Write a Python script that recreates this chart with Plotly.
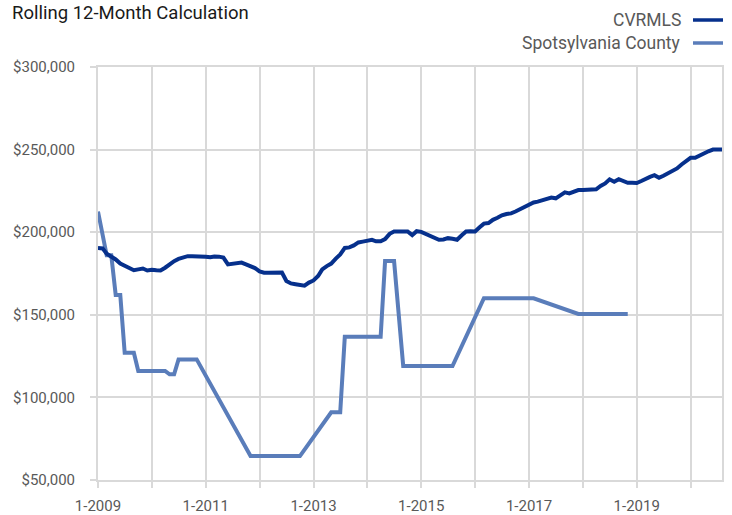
import plotly.graph_objects as go
import pandas as pd

# Monthly dates Jan 2009 .. Aug 2020
months = pd.date_range("2009-01-01", "2020-08-01", freq="MS")

# CVRMLS rolling 12-month median price (thousands of $)
cvrmls_k = [
    190.4, 190.2, 187.0, 185.5, 183.5, 181.0, 179.5, 178.5, 177.0, 177.5, 178.0, 176.8,
    177.3, 177.0, 176.8, 178.5, 180.5, 182.5, 183.8, 184.8, 185.5, 185.5, 185.5, 185.4,
    185.2, 184.8, 185.3, 185.2, 184.6, 180.5, 181.0, 181.3, 181.6, 180.5, 179.4, 178.3,
    176.3, 175.5, 175.5, 175.6, 175.5, 175.6, 170.5, 169.0, 168.5, 168.3, 167.6, 169.5,
    170.8, 173.5, 177.5, 179.5, 181.0, 184.0, 186.5, 190.5, 190.8, 192.0, 193.8, 194.3,
    195.0, 195.4, 194.5, 194.5, 195.8, 199.0, 200.4, 200.6, 200.6, 200.4, 198.2, 200.6,
    200.2, 199.0, 197.8, 197.0, 195.4, 195.6, 196.4, 196.0, 195.4, 198.0, 200.4, 200.5,
    200.4, 203.0, 205.2, 205.5, 207.5, 208.7, 210.2, 211.0, 211.4, 212.5, 214.0, 215.0,
    216.8, 218.0, 218.5, 219.3, 220.0, 221.0, 220.5, 222.5, 224.1, 223.5, 224.3, 225.5,
    225.5, 225.5, 225.5, 226.0, 228.0, 229.5, 232.0, 230.5, 232.1, 231.0, 229.9, 229.9,
    229.8, 231.0, 232.5, 233.5, 234.5, 232.9, 234.2, 235.5, 237.0, 238.6, 241.0, 243.0,
    245.0, 245.0, 246.3, 248.0, 249.0, 250.0, 250.0, 250.0,
]

# Spotsylvania County (thousands of $); None = no value that month
spotsy_k = [
    212.5, None, 186.0, 186.0, 162.0, 162.0, 127.0, 127.0, 127.0, 116.0, 116.0, 116.0,
    116.0, 116.0, 116.0, 116.0, 114.0, 114.0, 123.0, 123.0, 123.0, 123.0, 123.0, None,
    None, None, None, None, None, None, None, None, None, None, 64.5, 64.5,
    64.5, 64.5, 64.5, 64.5, 64.5, 64.5, 64.5, 64.5, 64.5, 64.5, None, None,
    None, None, None, None, 91.0, 91.0, 91.0, 136.7, 136.7, 136.7, 136.7, 136.7,
    136.7, 136.7, 136.7, 136.7, 182.5, 182.5, 182.5, None, 119.0, 119.0, 119.0, 119.0,
    119.0, 119.0, 119.0, 119.0, 119.0, 119.0, 119.0, 119.0, None, None, None, None,
    None, None, 160.0, 160.0, 160.0, 160.0, 160.0, 160.0, 160.0, 160.0, 160.0, 160.0,
    160.0, 160.0, None, None, None, None, None, None, None, None, None, 150.5,
    150.5, 150.5, 150.5, 150.5, 150.5, 150.5, 150.5, 150.5, 150.5, 150.5, 150.5,
]

series_names = ["CVRMLS", "Spotsylvania County"]
series_colors = ["#06308c", "#5a7dba"]

year_ticks = [f"{y}-01-01" for y in range(2009, 2021)]
year_labels = [f"1-{y}" if (y - 2009) % 2 == 0 else "" for y in range(2009, 2021)]

cvrmls = [v * 1000 for v in cvrmls_k]
spotsy = [None if v is None else v * 1000 for v in spotsy_k]

fig = go.Figure()
fig.add_trace(go.Scatter(x=months[:len(spotsy)], y=spotsy, mode="lines",
                         name=series_names[1], connectgaps=True,
                         line=dict(color=series_colors[1], width=4)))
fig.add_trace(go.Scatter(x=months[:len(cvrmls)], y=cvrmls, mode="lines",
                         name=series_names[0],
                         line=dict(color=series_colors[0], width=4)))

grid = "#d9d9d9"
tickfont = dict(family="Roboto, sans-serif", size=15, color="#595959")

fig.update_layout(
    width=732, height=515,
    margin=dict(l=98, r=10, t=67, b=35, autoexpand=False),
    paper_bgcolor="white", plot_bgcolor="white",
    showlegend=False,
    title=dict(text="Rolling 12-Month Calculation", x=12 / 732, xanchor="left",
               xref="container",
               y=1 - 13 / 515, yanchor="middle", yref="container",
               font=dict(family="Roboto, sans-serif", size=18.5, color="#1a1a1a")),
)
fig.update_xaxes(
    type="date", range=["2009-01-01", "2020-08-01"],
    tickvals=year_ticks, ticktext=year_labels,
    showgrid=True, gridcolor=grid, gridwidth=2,
    showline=True, linecolor=grid, linewidth=2, mirror=True,
    ticks="outside", ticklen=6, tickwidth=2, tickcolor=grid,
    tickfont=tickfont, ticklabelstandoff=5, zeroline=False, automargin=False,
)
fig.update_yaxes(
    range=[50000, 300000], tickvals=[50000, 100000, 150000, 200000, 250000, 300000],
    ticktext=["$50,000", "$100,000", "$150,000", "$200,000", "$250,000", "$300,000"],
    showgrid=True, gridcolor=grid, gridwidth=2,
    showline=True, linecolor=grid, linewidth=2, mirror=True,
    ticks="outside", ticklen=6, tickwidth=2, tickcolor=grid,
    tickfont=tickfont, ticklabelstandoff=12, zeroline=False, automargin=False,
)

# Custom legend (symbol to the right of the text, as in the reference)
plot_w, plot_h = 732 - 98 - 10, 515 - 67 - 35
legend_rows_px = [20, 43]
for name, color, ypx in zip(series_names, series_colors, legend_rows_px):
    yp = (480 - ypx) / plot_h
    fig.add_annotation(text=name, xref="paper", yref="paper",
                       x=(683 - 98) / plot_w, y=yp, xanchor="right", yanchor="middle",
                       showarrow=False,
                       font=dict(family="Roboto, sans-serif", size=17.5, color="#595959"))
    fig.add_shape(type="line", xref="paper", yref="paper",
                  x0=(693 - 98) / plot_w, x1=(723 - 98) / plot_w, y0=yp, y1=yp,
                  line=dict(color=color, width=3.5))

fig.write_html("out.html", config={"displayModeBar": False},
               post_script="document.body.style.margin='0';document.body.style.overflow='hidden';")
